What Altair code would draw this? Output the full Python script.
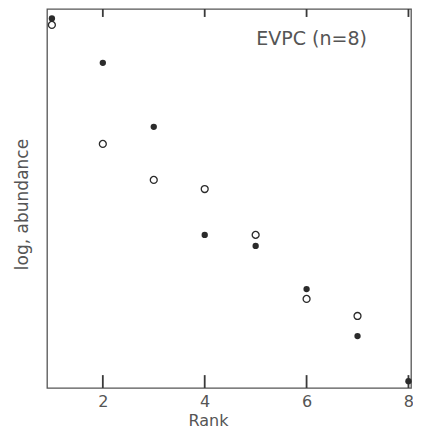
import altair as alt
import pandas as pd

# Values (y in arbitrary log-abundance units, 0..100)
ranks_filled = [1, 2, 3, 4, 5, 6, 7, 8]
vals_filled = [97.5, 85.8, 68.9, 40.4, 37.5, 26.1, 13.7, 1.8]
ranks_open = [1, 2, 3, 4, 5, 6, 7]
vals_open = [95.8, 64.4, 54.9, 52.5, 40.4, 23.5, 19.0]
tick_vals = [2, 4, 6, 8]
tick_lo = [0, 0, 0, 0]
tick_hi = [3.4, 3.4, 3.4, 3.4]
top_lo = [100, 100, 100, 100]
top_hi = [97.9, 97.9, 97.9, 97.9]
label_text = ["EVPC (n=8)"]
label_x = [6.1]
label_y = [92.0]

INK = "#2b2b2b"
GREY = "#555555"
TICK = "#3a3a3a"
FONT = "DejaVu Sans"
W = 364
H = 379

df_f = pd.DataFrame({"rank": ranks_filled, "val": vals_filled})
df_o = pd.DataFrame({"rank": ranks_open, "val": vals_open})
df_t = pd.DataFrame({"rank": label_x, "val": label_y, "txt": label_text})
df_ticks = pd.DataFrame({"pos": tick_vals, "lo": tick_lo, "hi": tick_hi,
                         "tlo": top_lo, "thi": top_hi})

xs = alt.Scale(domain=[0.904, 8.05], nice=False, zero=False)
ys = alt.Scale(domain=[0, 100], nice=False)

xax = alt.Axis(values=tick_vals, ticks=False, domain=False, grid=False,
               labelFont=FONT, labelFontSize=16, labelColor=GREY,
               labelPadding=5, title="Rank", titleFont=FONT, titleFontSize=16,
               titleColor=GREY, titleFontWeight="normal", titleX=161, titleY=37,
               titleAlign="center", titleBaseline="alphabetic")
yax = alt.Axis(ticks=False, labels=False, domain=False, grid=False,
               title="log, abundance", titleFont=FONT, titleFontSize=17,
               titleColor=GREY, titleFontWeight="normal", titleX=-25, titleY=195,
               titleAlign="center", titleBaseline="middle")

# inward tick marks on the bottom and top edges
ticks_bottom = alt.Chart(df_ticks).mark_rule(color=TICK, strokeWidth=1.8,
                                             opacity=1).encode(
    x=alt.X("pos:Q", scale=xs, axis=xax),
    y=alt.Y("lo:Q", scale=ys, axis=yax),
    y2="hi:Q",
)
ticks_top = alt.Chart(df_ticks).mark_rule(color=TICK, strokeWidth=1.8,
                                          opacity=1).encode(
    x=alt.X("pos:Q", scale=xs),
    y=alt.Y("tlo:Q", scale=ys),
    y2="thi:Q",
)
open_pts = alt.Chart(df_o).mark_point(filled=False, size=48, strokeWidth=1.3,
                                      color=INK, opacity=1).encode(
    x=alt.X("rank:Q", scale=xs),
    y=alt.Y("val:Q", scale=ys),
)
filled_pts = alt.Chart(df_f).mark_circle(size=40, color=INK, opacity=1).encode(
    x=alt.X("rank:Q", scale=xs),
    y=alt.Y("val:Q", scale=ys),
)
txt = alt.Chart(df_t).mark_text(font=FONT, fontSize=19, color=GREY).encode(
    x=alt.X("rank:Q", scale=xs),
    y=alt.Y("val:Q", scale=ys),
    text="txt:N",
)

chart = alt.layer(ticks_bottom, ticks_top, open_pts, filled_pts, txt).properties(
    width=W, height=H,
    autosize=alt.AutoSizeParams(type="none"),
    padding={"left": 39, "top": 1, "right": 2, "bottom": 40},
).configure_view(stroke=GREY, strokeWidth=1.3)

chart.save("out.html", embed_options={"renderer": "svg", "actions": False})
